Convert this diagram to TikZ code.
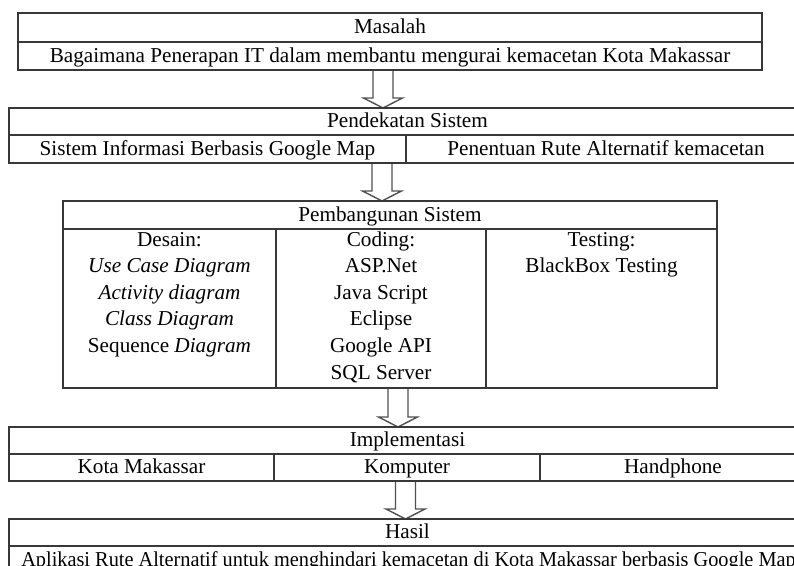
\documentclass[tikz,border=0pt]{standalone}
\usepackage{fontspec}
\setmainfont{Liberation Serif}
\usetikzlibrary{calc}
\definecolor{boxc}{HTML}{383838}
\definecolor{arrc}{HTML}{505050}
\newcommand\txtfont{\fontsize{10.6pt}{13.3pt}\selectfont}
\newcommand\fstrut{\rule{0pt}{8.4pt}}
\tikzset{
  cell/.style={draw=boxc, line width=0.75pt, rectangle, inner sep=0pt, outer sep=0pt,
    font=\txtfont, text height=8.4pt, text depth=2pt},
  coltext/.style={inner sep=0pt, align=center, font=\txtfont, anchor=north},
  barrow/.style={draw=arrc, line width=0.7pt, fill=white, line join=miter},
}
\newcommand\blkarrow[3]{%
  \coordinate (tmpx) at (#3,0);
  \draw[barrow] ($(tmpx|-#1.south)+(-10,0)$) -- ($(tmpx|-#1.south)+(10,0)$)
    -- ($(tmpx|-#2.north)+(10,-10)$) -- ($(tmpx|-#2.north)+(19.5,-10)$)
    -- (tmpx|-#2.north) -- ($(tmpx|-#2.north)+(-19.5,-10)$)
    -- ($(tmpx|-#2.north)+(-10,-10)$) -- cycle;}
\begin{document}
\begin{tikzpicture}[x=0.5pt,y=-0.5pt]
\useasboundingbox (0,0) rectangle (794,566);
\clip (0,0) rectangle (794,566);
\fill[white] (0,0) rectangle (794,566);
% arrows (drawn first, boxes on top)
\path (383,0) coordinate (ax1) (382,0) coordinate (ax2) (398,0) coordinate (ax3) (405.5,0) coordinate (ax4);
% Masalah
\node[cell, minimum width=372pt, minimum height=14.5pt] (mas) at (390,27.5) {Masalah};
\node[cell, minimum width=372pt, minimum height=14pt] (masq) at (390,56) {Bagaimana Penerapan IT dalam membantu mengurai kemacetan Kota Makassar};
% Pendekatan
\node[cell, minimum width=398.5pt, minimum height=13.5pt] (pen) at (407.5,121.5) {Pendekatan Sistem};
\node[cell, minimum width=198.5pt, minimum height=14pt] (pena) at (207.5,149) {Sistem Informasi Berbasis Google Map};
\node[cell, minimum width=200pt, minimum height=14pt] (penb) at (606,149) {Penentuan Rute Alternatif kemacetan};
% Pembangunan
\node[cell, minimum width=327pt, minimum height=14pt] (pem) at (390,215) {Pembangunan Sistem};
\node[cell, minimum width=106.5pt, minimum height=79.5pt] (cdes) at (169.5,308.5) {};
\node[cell, minimum width=105pt, minimum height=79.5pt] (ccod) at (381,308.5) {};
\node[cell, minimum width=115.5pt, minimum height=79.5pt] (ctes) at (601.5,308.5) {};
\node[coltext] (tdes) at ($(cdes.north)+(0,0)$) {\fstrut Desain:\\\fstrut\textit{Use Case Diagram}\\\fstrut\textit{Activity diagram}\\\fstrut\textit{Class Diagram}\\\fstrut Sequence \textit{Diagram}};
\node[coltext] (tcod) at ($(ccod.north)+(0,0)$) {\fstrut Coding:\\\fstrut ASP.Net\\\fstrut Java Script\\\fstrut Eclipse\\\fstrut Google API\\\fstrut SQL Server};
\node[coltext] (ttes) at ($(ctes.north)+(0,0)$) {\fstrut Testing:\\\fstrut BlackBox Testing};
% Implementasi
\node[cell, minimum width=398.5pt, minimum height=13.5pt] (imp) at (407.5,440.5) {Implementasi};
\node[cell, minimum width=132.5pt, minimum height=13.5pt] (impa) at (141.5,467.5) {Kota Makassar};
\node[cell, minimum width=133pt, minimum height=13.5pt] (impb) at (407,467.5) {Komputer};
\node[cell, minimum width=133pt, minimum height=13.5pt] (impc) at (673,467.5) {Handphone};
% Hasil
\node[cell, minimum width=398.5pt, minimum height=13.5pt] (has) at (407.5,532.5) {Hasil};
\node[cell, minimum width=398.5pt, minimum height=14pt] (hasa) at (407.5,560) {};
\node[font=\txtfont, inner sep=0pt, text height=8.4pt, text depth=2pt] (hast) at (408.5,560) {\scalebox{0.958}[1]{Aplikasi Rute Alternatif untuk menghindari kemacetan di Kota Makassar berbasis Google Map}};
% arrows
\blkarrow{masq}{pen}{383}
\blkarrow{pena}{pem}{382}
\blkarrow{ccod}{imp}{398}
\blkarrow{impb}{has}{405.5}
% redraw box edges touched by arrows
\draw[boxc, line width=0.75pt] (masq.south west) -- (masq.south east)
  (pen.north west) -- (pen.north east)
  (pena.south west) -- (pena.south east)
  (pem.north west) -- (pem.north east)
  (ccod.south west) -- (ccod.south east)
  (imp.north west) -- (imp.north east)
  (impb.south west) -- (impb.south east)
  (has.north west) -- (has.north east);
\end{tikzpicture}
\end{document}
